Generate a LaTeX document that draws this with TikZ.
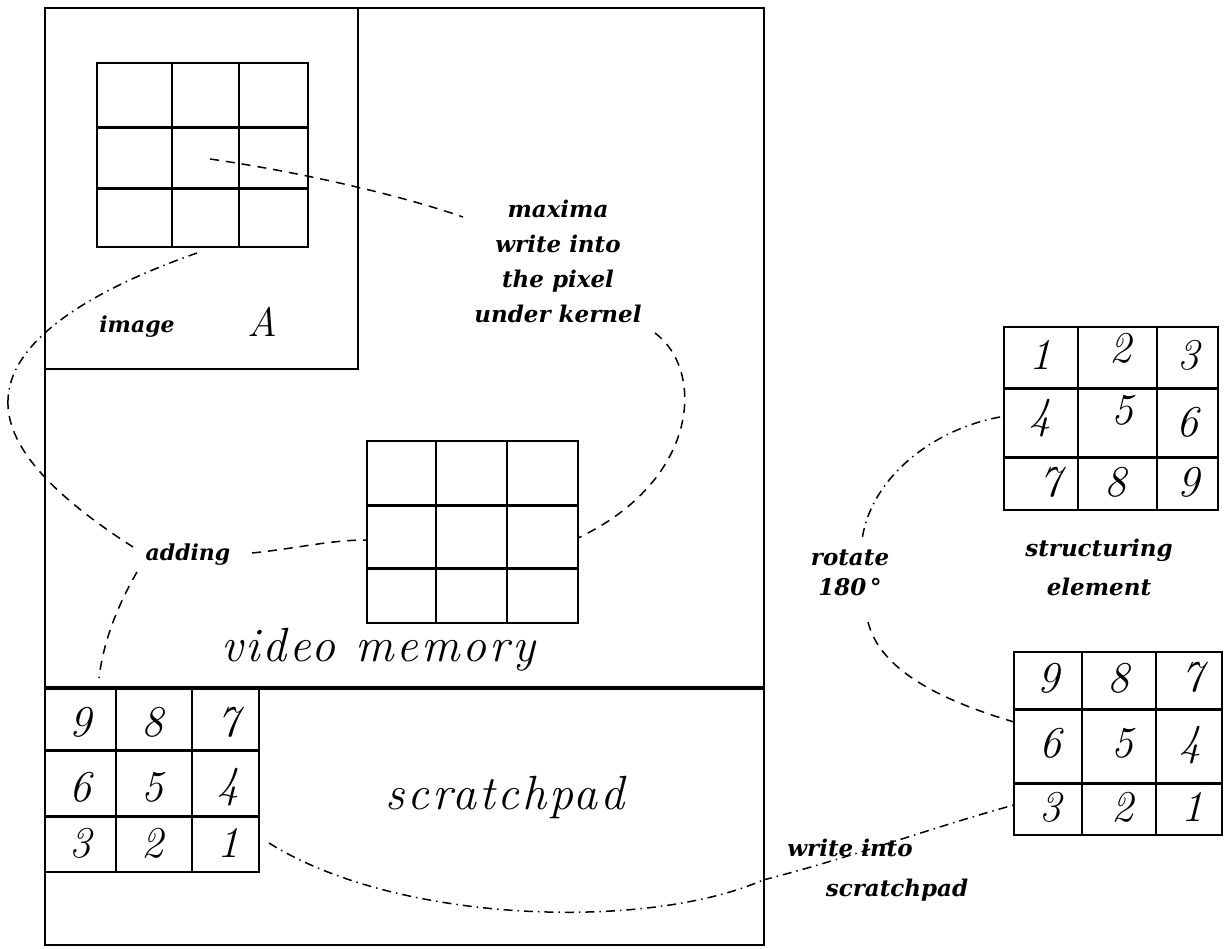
\documentclass[tikz,border=0pt]{standalone}
\usepackage{fontspec}
\newfontfamily\lblfont{DejaVu Serif}
\newfontfamily\bigfont{Latin Modern Roman}[LetterSpace=6]
\tikzset{
  x=1pt, y=-1pt,
  outline/.style={line width=1.6pt},
  cellframe/.style={draw, rectangle, line width=1.8pt, inner sep=0pt, outer sep=0pt},
  rowline/.style={line width=3pt},
  colline/.style={line width=2pt},
  lbl/.style={font=\lblfont\bfseries\itshape\fontsize{23}{35}\selectfont, inner sep=0pt, align=center},
  smalllbl/.style={font=\lblfont\bfseries\itshape\fontsize{22}{35}\selectfont, inner sep=0pt},
  digit/.style={font=\fontsize{44}{44}\selectfont\itshape, inner sep=0pt},
  bigtxt/.style={font=\bigfont\itshape\fontsize{48}{48}\selectfont, inner sep=0pt},
  dashlink/.style={line width=1.5pt, dash pattern=on 9pt off 7pt},
  dotlink/.style={line width=1.5pt, dash pattern=on 9pt off 5pt on 1.5pt off 5pt},
}
% 3x3 cell grid: name, x0,x1,x2,x3, y0,y1,y2,y3
\newcommand\cellgrid[9]{%
  \node[cellframe, minimum width={(#5-#2)*1pt}, minimum height={(#9-#6)*1pt}]
    (#1) at ({(#2+#5)/2},{(#6+#9)/2}) {};
  \draw[colline] (#3,#6) -- (#3,#9) (#4,#6) -- (#4,#9);
  \draw[rowline] (#2,#7) -- (#5,#7) (#2,#8) -- (#5,#8);
}
\begin{document}
\begin{tikzpicture}
\useasboundingbox (0,0) rectangle (1225,949);

% memory frame, image window and scratchpad divider
\draw[outline] (45,8) rectangle (764,945);
\draw[outline] (45,8) rectangle (358,369);
\draw[line width=3.5pt] (45,688) -- (764,688);

% grids
\cellgrid{imggrid}{97}{172}{239}{308}{63}{128}{189}{247}
\cellgrid{vidgrid}{367}{436}{507}{578}{441}{505}{568}{623}
\cellgrid{padgrid}{45}{116}{192}{259}{688}{750}{816}{872}
\cellgrid{segrid}{1004}{1078}{1157}{1218}{327}{388}{457}{510}
\cellgrid{rotgrid}{1014}{1082}{1156}{1222}{652}{709}{783}{835}

% structuring element digits
\foreach \d/\px/\py in {1/1040/355, 2/1120/348, 3/1188/355,
                        4/1040/418, 5/1122/410, 6/1187/422,
                        7/1050/482, 8/1115/482, 9/1188/482}
  \node[digit] (se\d) at (\px,\py) {\d};
% rotated element digits
\foreach \d/\px/\py in {9/1048/678, 8/1118/678, 7/1192/677,
                        6/1050/743, 5/1122/743, 4/1190/745,
                        3/1050/807, 2/1122/807, 1/1192/807}
  \node[digit] (ro\d) at (\px,\py) {\d};
% scratchpad digits
\foreach \d/\px/\py in {9/80/722, 8/152/722, 7/228/722,
                        6/80/787, 5/152/787, 4/228/787,
                        3/80/843, 2/152/843, 1/228/843}
  \node[digit] (sp\d) at (\px,\py) {\d};

% texts
\node[smalllbl] (imglbl) at (137,327) {image};
\node[font=\fontsize{41}{41}\selectfont\itshape, inner sep=0pt] (Albl) at (262,322) {A};
\node[lbl] (maxlbl) at (558,261) {maxima\\write into\\the pixel\\under kernel};
\node[smalllbl] (addlbl) at (188,555) {adding};
\node[lbl] (rotlbl) at (850,573) {rotate\\[-5pt]180\,°};
\node[lbl] (selbl) at (1099,567) {structuring\\[4pt]element};
\node[lbl] (wrlbl) at (850,848) {write into};
\node[lbl] (splbl) at (897,890) {scratchpad};
\node[bigtxt] (vidlbl) at (378,650) {video memory};
\node[bigtxt] (padlbl) at (505,797) {scratchpad};

% connector end points
\coordinate (imgMid) at (210,159);
\coordinate (imgLow) at (197,253);
\coordinate (maxIn) at (463,217);
\coordinate (maxOut) at (655,333);
\coordinate (vidRight) at (578,538);
\coordinate (vidLeft) at (367,540);
\coordinate (addIn) at (133,547);
\coordinate (addRight) at (252,553);
\coordinate (addLow) at (137,572);
\coordinate (padTop) at (99,678);
\coordinate (seLeft) at (1000,417);
\coordinate (rotIn) at (862,540);
\coordinate (rotOut) at (868,622);
\coordinate (rotLeft) at (1014,722);
\coordinate (padRight) at (269,843);
\coordinate (edgeCross) at (763,880);
\coordinate (rotLow) at (1014,805);

% connectors
\draw[dashlink] (imgMid) .. controls (300,172) and (400,195) .. (maxIn);
\draw[dashlink] (maxOut) .. controls (705,370) and (700,480) .. (vidRight);
\draw[dotlink] (imgLow) .. controls (120,280) and (10,330) .. (8,400);
\draw[dashlink] (8,400) .. controls (6,450) and (60,500) .. (addIn);
\draw[dashlink] (addRight) .. controls (300,548) and (330,540) .. (vidLeft);
\draw[dashlink] (addLow) .. controls (115,610) and (103,645) .. (padTop);
\draw[dotlink] (seLeft) .. controls (930,430) and (870,480) .. (rotIn);
\draw[dashlink] (rotOut) .. controls (880,670) and (940,700) .. (rotLeft);
\draw[dotlink] (padRight) .. controls (400,925) and (650,930) .. (edgeCross);
\draw[dotlink] (edgeCross) .. controls (850,858) and (930,828) .. (rotLow);
\end{tikzpicture}
\end{document}
